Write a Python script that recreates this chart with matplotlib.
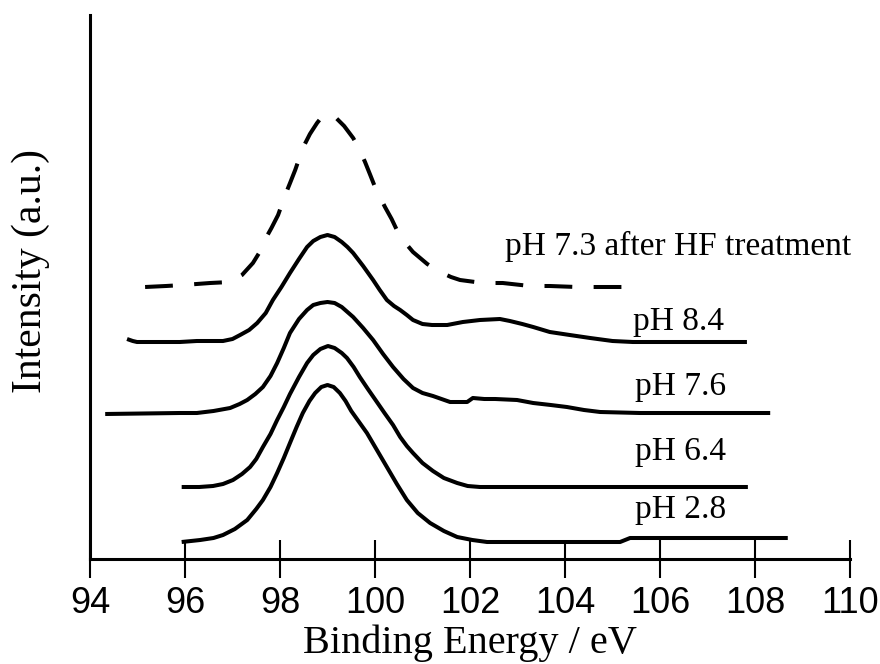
import matplotlib
matplotlib.use("Agg")
import matplotlib.pyplot as plt

# ---- data (binding energy in eV, intensity in arbitrary units) ----
e_ph28 = [95.93, 96.32, 96.60, 96.80, 97.05, 97.31, 97.50, 97.64, 97.80, 97.94, 98.08, 98.21,
          98.35, 98.48, 98.62, 98.74, 98.87, 99.00, 99.13, 99.26, 99.38, 99.50, 99.65, 99.83,
          100.04, 100.25, 100.46, 100.67, 100.90, 101.16, 101.45, 101.73, 102.05, 102.36,
          103.89, 105.16, 105.37, 108.69]
i_ph28 = [17, 19, 21, 24, 30, 39, 50, 59, 72, 86, 101, 116,
          132, 146, 158, 166, 172, 174, 172, 166, 158, 148, 138, 126,
          109, 92, 75, 59, 46, 36, 28, 22, 19, 17,
          17, 17, 21, 21]

e_ph64 = [95.93, 96.30, 96.59, 96.80, 97.01, 97.20, 97.37, 97.50, 97.64, 97.80, 97.94, 98.08,
          98.21, 98.40, 98.57, 98.70, 98.85, 99.01, 99.15, 99.30, 99.41, 99.55, 99.68, 99.85,
          100.04, 100.20, 100.38, 100.53, 100.67, 100.80, 101.00, 101.22, 101.45, 101.73,
          101.95, 102.21, 107.85]
i_ph64 = [72, 72, 73, 75, 79, 85, 92, 100, 112, 125, 139, 152,
          165, 182, 196, 204, 210, 213, 211, 206, 201, 192, 182, 170,
          157, 146, 134, 122, 113, 106, 96, 88, 81, 76,
          73, 72, 72]

e_ph76 = [94.32, 95.89, 96.25, 96.60, 96.95, 97.15, 97.31, 97.48, 97.64, 97.80, 97.94, 98.08,
          98.21, 98.40, 98.57, 98.70, 98.85, 99.00, 99.15, 99.30, 99.42, 99.54, 99.75, 99.96,
          100.17, 100.38, 100.60, 100.80, 101.00, 101.22, 101.40, 101.58, 101.80, 101.94,
          102.06, 102.30, 102.53, 102.99, 103.33, 103.70, 104.04, 104.40, 104.74, 105.58, 108.32]
i_ph76 = [145, 146, 146, 148, 151, 155, 159, 165, 172, 183, 196, 211,
          226, 240, 249, 254, 256, 257, 256, 252, 247, 242, 231, 219,
          205, 192, 180, 171, 166, 163, 160, 157, 157, 157,
          161, 160, 160, 159, 156, 154, 152, 149, 147, 146, 146]

e_ph84 = [94.78, 94.90, 94.99, 95.89, 96.25, 96.80, 97.00, 97.16, 97.35, 97.52, 97.70, 97.85,
          98.03, 98.21, 98.40, 98.57, 98.70, 98.85, 99.00, 99.15, 99.30, 99.42, 99.54, 99.75,
          99.96, 100.10, 100.25, 100.40, 100.53, 100.67, 100.80, 101.00, 101.20, 101.52,
          101.85, 102.21, 102.63, 102.84, 103.10, 103.33, 103.68, 104.10, 104.53, 105.00,
          105.43, 107.83]
i_ph84 = [220, 218, 217, 217, 218, 218, 220, 224, 229, 236, 246, 259,
          272, 286, 300, 312, 318, 322, 324, 322, 317, 312, 306, 293,
          279, 269, 259, 253, 249, 244, 239, 235, 234, 234,
          237, 239, 240, 238, 235, 232, 227, 224, 221, 218,
          217, 217]

e_hf = [95.16, 95.60, 95.96, 96.53, 96.95, 97.20, 97.43, 97.56, 97.68, 97.82, 97.96, 98.11,
        98.22, 98.32, 98.48, 98.63, 98.78, 98.88, 98.97, 99.06, 99.16, 99.35, 99.54, 99.67,
        99.79, 99.90, 100.00, 100.21, 100.35, 100.48, 100.64, 100.80, 101.10, 101.37, 101.60,
        101.79, 102.27, 102.69, 103.26, 103.68, 104.25, 105.22]
i_hf = [272, 273, 274, 276, 277, 284, 296, 306, 319, 331, 344, 364,
        377, 389, 411, 425, 436, 442, 445, 445, 442, 433, 421, 410,
        397, 384, 372, 352, 340, 327, 316, 307, 295, 287, 282,
        279, 276, 276, 273, 273, 272, 272]

labels = ["pH 7.3 after HF treatment", "pH 8.4", "pH 7.6", "pH 6.4", "pH 2.8"]
xticks = [94, 96, 98, 100, 102, 104, 106, 108, 110]

serif = ["Liberation Serif", "DejaVu Serif"]
sans = ["Liberation Sans", "DejaVu Sans"]

fig = plt.figure(figsize=(8.8, 6.64), dpi=100)
ax = fig.add_axes([90 / 880, 105 / 664, 760 / 880, 544 / 664])

lw = 2.9
kw = dict(color="black", lw=lw, solid_joinstyle="round", solid_capstyle="butt")
ax.plot(e_ph28, i_ph28, **kw)
ax.plot(e_ph64, i_ph64, **kw)
ax.plot(e_ph76, i_ph76, **kw)
ax.plot(e_ph84, i_ph84, **kw)
ax.plot(e_hf, i_hf, color="black", lw=lw, linestyle=(0, (6.9, 5.3)),
        dash_capstyle="butt", dash_joinstyle="round")

ax.set_xlim(94, 110)
ax.set_ylim(0, 544)
ax.set_xticks(xticks)
ax.set_xticklabels([str(t) for t in xticks], fontfamily=sans, fontsize=26)
ax.set_yticks([])

for s in ["top", "right"]:
    ax.spines[s].set_visible(False)
for s in ["left", "bottom"]:
    ax.spines[s].set_linewidth(2.2)
ax.tick_params(axis="x", direction="inout", length=27, width=1.5, pad=6)

ax.set_xlabel("Binding Energy / eV", fontfamily=serif, fontsize=29)
ax.xaxis.set_label_coords(0.5, -0.12)
ax.set_ylabel("Intensity (a.u.)", fontfamily=serif, fontsize=30)
ax.yaxis.set_label_coords(-0.053, 0.53)

tk = dict(fontfamily=serif, fontsize=24, va="baseline", ha="left")
ax.text(102.74, 304, labels[0], **tk)
ax.text(105.43, 229, labels[1], **tk)
ax.text(105.47, 164, labels[2], **tk)
ax.text(105.47, 99, labels[3], **tk)
ax.text(105.47, 41, labels[4], **tk)

fig.savefig("out.png", dpi=100)
